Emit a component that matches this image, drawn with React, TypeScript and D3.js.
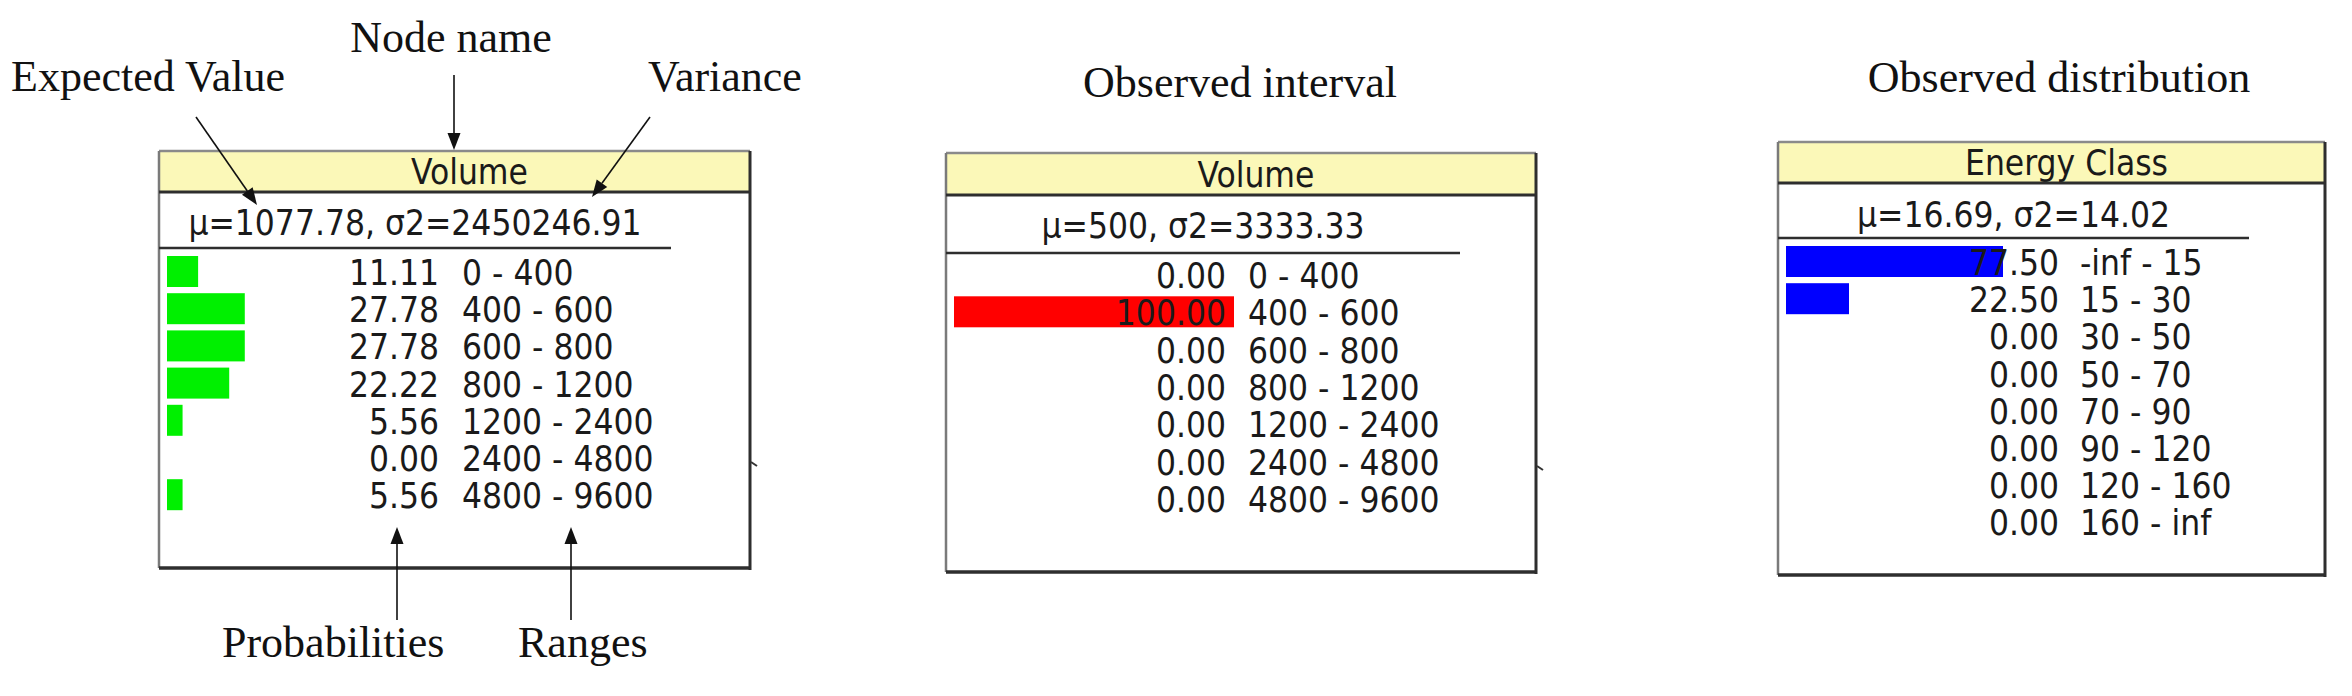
import React from 'react';
import * as d3 from 'd3';

// node states and probabilities (percent)
const volumeRanges = ['0 - 400', '400 - 600', '600 - 800', '800 - 1200', '1200 - 2400', '2400 - 4800', '4800 - 9600'];
const volumePrior = [11.11, 27.78, 27.78, 22.22, 5.56, 0.0, 5.56];
const volumeObserved = [0.0, 100.0, 0.0, 0.0, 0.0, 0.0, 0.0];
const energyRanges = ['-inf - 15', '15 - 30', '30 - 50', '50 - 70', '70 - 90', '90 - 120', '120 - 160', '160 - inf'];
const energyObserved = [77.5, 22.5, 0.0, 0.0, 0.0, 0.0, 0.0, 0.0];

const nodeNames = ['Volume', 'Volume', 'Energy Class'];
const nodeStats = ['μ=1077.78, σ2=2450246.91', 'μ=500, σ2=3333.33', 'μ=16.69, σ2=14.02'];
const panelTitles = ['Observed interval', 'Observed distribution'];
const annotations = ['Node name', 'Expected Value', 'Variance', 'Probabilities', 'Ranges'];

const W = 2352;
const H = 696;
const BOX_FONT = "'DejaVu Sans Condensed', 'DejaVu Sans', sans-serif";
const SERIF = "'Liberation Serif', 'Times New Roman', serif";

const barScale = d3.scaleLinear().domain([0, 100]).range([0, 280]);

const NodeBox = ({ layout, name, stat, values, ranges, color }) => {
  const { x0, x1, top, headBottom, bottom, statY, sepY, sepRight, row0, pitch, barLeft, probRight, rangeLeft, markY } = layout;
  const rowY = d3.scaleLinear().domain([0, 1]).range([row0, row0 + pitch]);
  const fmt = d3.format('.2f');
  return (
    <g fontFamily={BOX_FONT} fontSize={35} fill="#1a1a1a">
      <rect x={x0} y={top} width={x1 - x0} height={bottom - top} fill="#fff" />
      <rect x={x0} y={top} width={x1 - x0} height={headBottom - top} fill="#fbf8b8" />
      <text x={(x0 + x1) / 2 + 15} y={headBottom - 8} textAnchor="middle">{name}</text>
      <text x={(x0 + sepRight) / 2} y={statY} textAnchor="middle">{stat}</text>
      {values.map((v, i) => (
        <rect key={'b' + i} x={barLeft} y={rowY(i) - 29} width={barScale(v)} height={31} fill={color} />
      ))}
      {values.map((v, i) => (
        <g key={'t' + i}>
          <text x={probRight} y={rowY(i)} textAnchor="end">{fmt(v)}</text>
          <text x={rangeLeft} y={rowY(i)}>{ranges[i]}</text>
        </g>
      ))}
      {/* frame */}
      <line x1={x0} y1={top} x2={x1} y2={top} stroke="#8a8a8a" strokeWidth={2.5} />
      <line x1={x0} y1={top} x2={x0} y2={bottom} stroke="#7a7a7a" strokeWidth={2.5} />
      <line x1={x1} y1={top} x2={x1} y2={bottom + 2} stroke="#2e2e2e" strokeWidth={3} />
      <line x1={x0} y1={bottom} x2={x1} y2={bottom} stroke="#2e2e2e" strokeWidth={3.5} />
      <line x1={x0} y1={headBottom} x2={x1} y2={headBottom} stroke="#2e2e2e" strokeWidth={3} />
      <line x1={x0} y1={sepY} x2={sepRight} y2={sepY} stroke="#2e2e2e" strokeWidth={2.5} />
      {markY ? <path d={`M${x1 + 1},${markY} l6,4`} stroke="#333" strokeWidth={2} /> : null}
    </g>
  );
};

const Arrow = ({ x1, y1, x2, y2 }) => {
  const a = Math.atan2(y2 - y1, x2 - x1);
  const len = 17;
  const w = 6.5;
  const bx = x2 - len * Math.cos(a);
  const by = y2 - len * Math.sin(a);
  const px = -Math.sin(a) * w;
  const py = Math.cos(a) * w;
  return (
    <g>
      <line x1={x1} y1={y1} x2={bx} y2={by} stroke="#111" strokeWidth={1.6} />
      <polygon points={`${x2},${y2} ${bx + px},${by + py} ${bx - px},${by - py}`} fill="#111" />
    </g>
  );
};

const layouts = [
  { x0: 159, x1: 750, top: 151, headBottom: 192, bottom: 568, statY: 235, sepY: 248, sepRight: 671, row0: 285, pitch: 37.2, barLeft: 167, probRight: 439, rangeLeft: 462, markY: 462 },
  { x0: 946, x1: 1536, top: 153, headBottom: 195, bottom: 572, statY: 238, sepY: 253, sepRight: 1460, row0: 288, pitch: 37.3, barLeft: 954, probRight: 1226, rangeLeft: 1248, markY: 466 },
  { x0: 1778, x1: 2325, top: 142, headBottom: 183, bottom: 575, statY: 227, sepY: 238, sepRight: 2249, row0: 275, pitch: 37.2, barLeft: 1786, probRight: 2059, rangeLeft: 2080, markY: 0 },
];

export default function App() {
  return (
    <svg width={W} height={H} style={{ position: 'absolute', left: 0, top: 0, background: '#fff' }}>
      <NodeBox layout={layouts[0]} name={nodeNames[0]} stat={nodeStats[0]} values={volumePrior} ranges={volumeRanges} color="#00f000" />
      <NodeBox layout={layouts[1]} name={nodeNames[1]} stat={nodeStats[1]} values={volumeObserved} ranges={volumeRanges} color="#ff0000" />
      <NodeBox layout={layouts[2]} name={nodeNames[2]} stat={nodeStats[2]} values={energyObserved} ranges={energyRanges} color="#0000ff" />

      <g fontFamily={SERIF} fontSize={44} fill="#111">
        <text x={451} y={52} textAnchor="middle">{annotations[0]}</text>
        <text x={11} y={91}>{annotations[1]}</text>
        <text x={648} y={91}>{annotations[2]}</text>
        <text x={222} y={657}>{annotations[3]}</text>
        <text x={518} y={657}>{annotations[4]}</text>
        <text x={1240} y={97} textAnchor="middle">{panelTitles[0]}</text>
        <text x={2059} y={92} textAnchor="middle">{panelTitles[1]}</text>
      </g>

      <Arrow x1={454} y1={75} x2={454} y2={150} />
      <Arrow x1={196} y1={117} x2={257} y2={205} />
      <Arrow x1={650} y1={117} x2={592} y2={197} />
      <Arrow x1={397} y1={620} x2={397} y2={527} />
      <Arrow x1={571} y1={620} x2={571} y2={527} />
    </svg>
  );
}
